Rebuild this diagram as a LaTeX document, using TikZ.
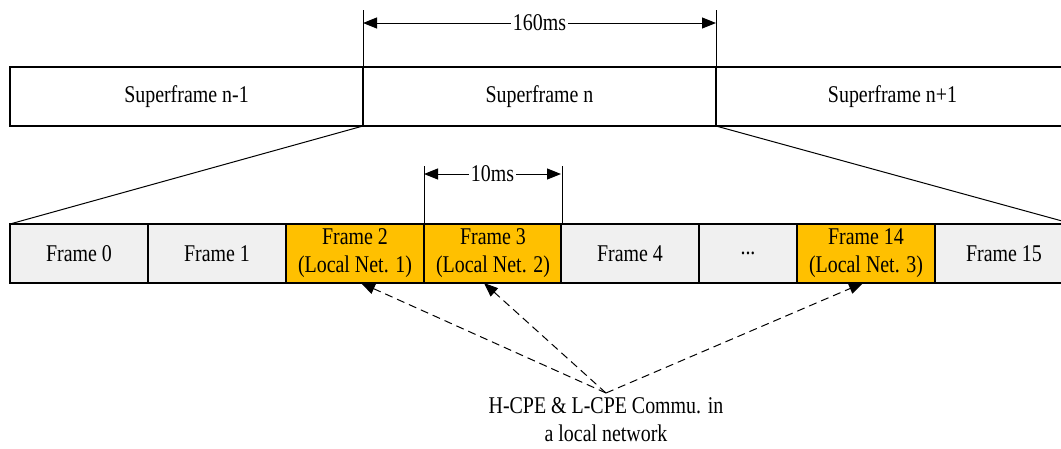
\documentclass[tikz,border=0pt]{standalone}
\usepackage{fontspec}
\setmainfont[FakeStretch=0.83]{Liberation Serif}
\usetikzlibrary{arrows.meta}
\definecolor{netorange}{HTML}{FFC000}
\definecolor{framegray}{HTML}{F0F0F0}

\begin{document}
\begin{tikzpicture}[x=1pt, y=-1pt,
    font=\fontsize{24}{28}\selectfont,
    every node/.style={inner sep=0pt, outer sep=0pt},
    sfbox/.style={draw, line width=1.2pt, minimum width=353pt, minimum height=59pt, anchor=north west},
    frbox/.style={draw, line width=1.2pt, fill=framegray, minimum width=138pt, minimum height=59pt, anchor=north west, align=center},
    netbox/.style={frbox, fill=netorange},
    dim/.style={line width=1pt, {Triangle[length=14pt,width=11pt]}-{Triangle[length=14pt,width=11pt]}},
    comm/.style={line width=1pt, dash pattern=on 8pt off 5pt, -{Triangle[length=14pt,width=11pt]}}]
    \useasboundingbox (0,0) rectangle (1061,448);
    \clip (0,0) rectangle (1061,448);

    \node[sfbox] (sf0) at (10,67) {Superframe n-1};
    \node[sfbox] (sf1) at (363,67) {Superframe n};
    \node[sfbox] (sf2) at (716,67) {Superframe n+1};

    \node[frbox] (f0) at (10,224) {Frame 0};
    \node[frbox] (f1) at (148,224) {Frame 1};
    \node[netbox] (f2) at (286,224) {Frame 2\\(Local Net. 1)};
    \node[netbox] (f3) at (424,224) {Frame 3\\(Local Net. 2)};
    \node[frbox] (f4) at (561,224) {Frame 4};
    \node[frbox, minimum width=98pt] (fdots) at (699,224) {...};
    \node[netbox] (f14) at (797,224) {Frame 14\\(Local Net. 3)};
    \node[frbox] (f15) at (935,224) {Frame 15};

    % zoom lines
    \draw[line width=1pt] (sf1.south west) -- (f0.north west);
    \draw[line width=1pt] (sf1.south east) -- (f15.north east);

    % 160ms
    \coordinate (a160) at (363,23);
    \coordinate (b160) at (716,23);
    \draw[line width=1pt] (sf1.north west) -- ++(0,-57);
    \draw[line width=1pt] (sf1.north east) -- ++(0,-57);
    \draw[dim] (a160) -- node[fill=white, inner xsep=2pt] (t160) {160ms} (b160);

    % 10ms
    \coordinate (a10) at (424,174);
    \coordinate (b10) at (561,174);
    \draw[line width=1pt] (f3.north west) -- ++(0,-58);
    \draw[line width=1pt] (f3.north east) -- ++(0,-58);
    \draw[dim] (a10) -- node[fill=white, inner xsep=2pt] (t10) {10ms} (b10);

    \coordinate (src) at (606,393);
    \node[align=center, anchor=north] (cpe) at (606,398) {H-CPE \& L-CPE Commu. in\\a local network};
    \draw[comm] (src) -- ([xshift=6pt]f2.south);
    \draw[comm] (src) -- ([xshift=-9pt]f3.south);
    \draw[comm] (src) -- ([xshift=-3pt]f14.south);
  \end{tikzpicture}
\end{document}
